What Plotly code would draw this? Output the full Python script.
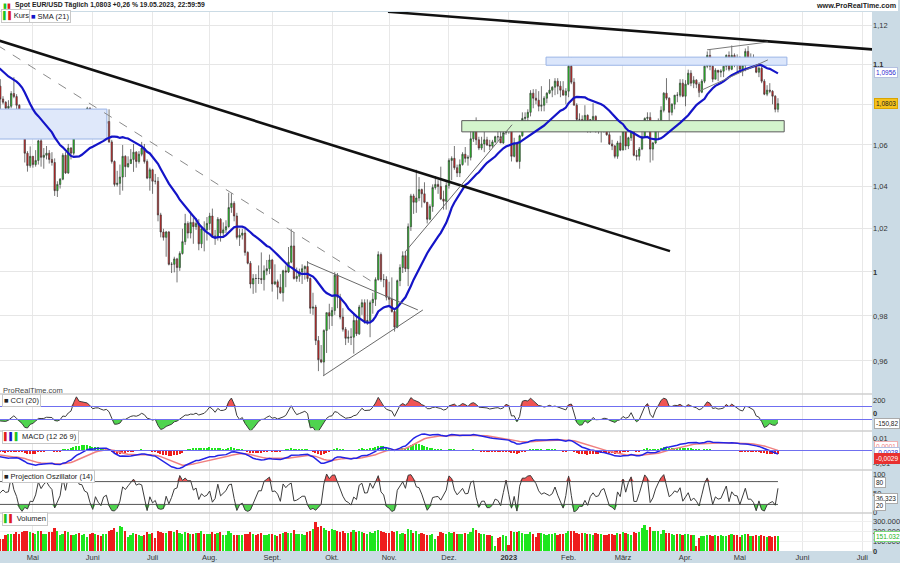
import numpy as np
import pandas as pd
import plotly.graph_objects as go
from plotly.subplots import make_subplots

# ---------------- data (EUR/USD daily) ----------------
dates = pd.bdate_range("2022-03-01", "2023-05-19")

opens = [
    # Mar 2022
    1.1220, 1.1125, 1.1120, 1.1065, 1.0930, 1.0855, 1.0905, 1.1075, 1.0985, 1.0912, 1.0941, 1.0955, 1.1035, 1.1094, 1.1050, 1.1016, 1.1030, 1.1005, 1.0995, 1.0985, 1.0985, 1.1090, 1.1160,
    # Apr 2022
    1.1067, 1.1046, 1.0971, 1.0905, 1.0900, 1.0880, 1.0876, 1.0887, 1.0830, 1.0890, 1.0826, 1.0810, 1.0780, 1.0790, 1.0853, 1.0838, 1.0795, 1.0715, 1.0640, 1.0560, 1.0500,
    # May 2022
    1.0545, 1.0505, 1.0525, 1.0620, 1.0540, 1.0550, 1.0560, 1.0530, 1.0515, 1.0380, 1.0410, 1.0435, 1.0550, 1.0465, 1.0585, 1.0560, 1.0690, 1.0735, 1.0675, 1.0725, 1.0730, 1.0780,
    # Jun 2022
    1.0735, 1.0650, 1.0750, 1.0720, 1.0695, 1.0705, 1.0715, 1.0615, 1.0520, 1.0410, 1.0415, 1.0445, 1.0545, 1.0495, 1.0510, 1.0530, 1.0565, 1.0520, 1.0555, 1.0585, 1.0520, 1.0440,
    # Jul 2022
    1.0480, 1.0425, 1.0425, 1.0265, 1.0185, 1.0160, 1.0185, 1.0035, 1.0035, 1.0060, 1.0020, 1.0085, 1.0140, 1.0225, 1.0180, 1.0230, 1.0210, 1.0225, 1.0130, 1.0200, 1.0195,
    # Aug 2022
    1.0225, 1.0260, 1.0165, 1.0165, 1.0245, 1.0180, 1.0195, 1.0210, 1.0300, 1.0320, 1.0260, 1.0160, 1.0170, 1.0180, 1.0090, 1.0040, 0.9945, 0.9970, 0.9970, 0.9970, 0.9965, 1.0005, 1.0015,
    # Sep 2022
    1.0055, 0.9945, 0.9955, 0.9930, 0.9905, 1.0005, 1.0000, 1.0045, 1.0120, 0.9970, 0.9980, 1.0000, 1.0015, 1.0025, 0.9970, 0.9835, 0.9840, 0.9690, 0.9605, 0.9595, 0.9735, 0.9815,
    # Oct 2022
    0.9800, 0.9825, 0.9985, 0.9885, 0.9795, 0.9740, 0.9700, 0.9705, 0.9705, 0.9780, 0.9720, 0.9840, 0.9860, 0.9775, 0.9780, 0.9860, 0.9875, 0.9965, 1.0080, 0.9965, 0.9965,
    # Nov 2022
    0.9885, 0.9875, 0.9820, 0.9750, 0.9960, 1.0020, 1.0075, 1.0015, 1.0210, 1.0355, 1.0325, 1.0345, 1.0385, 1.0365, 1.0325, 1.0245, 1.0305, 1.0395, 1.0410, 1.0400, 1.0340, 1.0330,
    # Dec 2022
    1.0405, 1.0525, 1.0535, 1.0490, 1.0465, 1.0505, 1.0555, 1.0535, 1.0540, 1.0630, 1.0680, 1.0625, 1.0585, 1.0605, 1.0625, 1.0600, 1.0595, 1.0615, 1.0640, 1.0640, 1.0610, 1.0660,
    # Jan 2023
    1.0705, 1.0670, 1.0545, 1.0605, 1.0520, 1.0645, 1.0730, 1.0735, 1.0760, 1.0855, 1.0830, 1.0820, 1.0790, 1.0795, 1.0830, 1.0855, 1.0870, 1.0885, 1.0915, 1.0890, 1.0870, 1.0845,
    # Feb 2023
    1.0865, 1.0990, 1.0910, 1.0795, 1.0725, 1.0725, 1.0710, 1.0745, 1.0680, 1.0725, 1.0740, 1.0690, 1.0675, 1.0695, 1.0685, 1.0650, 1.0605, 1.0595, 1.0545, 1.0610,
    # Mar 2023
    1.0575, 1.0665, 1.0595, 1.0635, 1.0680, 1.0550, 1.0545, 1.0580, 1.0640, 1.0730, 1.0735, 1.0580, 1.0610, 1.0670, 1.0715, 1.0770, 1.0855, 1.0830, 1.0760, 1.0800, 1.0845, 1.0845, 1.0905,
    # Apr 2023
    1.0840, 1.0900, 1.0955, 1.0905, 1.0920, 1.0900, 1.0860, 1.0915, 1.0990, 1.1045, 1.0990, 1.0925, 1.0970, 1.0960, 1.0965, 1.0990, 1.1045, 1.0975, 1.1045, 1.1030,
    # May 2023
    1.1015, 1.0975, 1.0995, 1.1065, 1.1015, 1.1020, 1.1005, 1.0960, 1.0980, 1.0915, 1.0850, 1.0870, 1.0865, 1.0840, 1.0775,
]

highs = [
    1.1234, 1.1155, 1.1125, 1.1070, 1.0945, 1.0935, 1.1080, 1.1120, 1.1040, 1.0985, 1.1015, 1.1040, 1.1135, 1.1105, 1.1075, 1.1045, 1.1045, 1.1035, 1.1030, 1.0995, 1.1137, 1.1185, 1.1170,
    1.1075, 1.1050, 1.0990, 1.0940, 1.0935, 1.0890, 1.0935, 1.0905, 1.0895, 1.0925, 1.0840, 1.0815, 1.0820, 1.0865, 1.0935, 1.0850, 1.0800, 1.0745, 1.0655, 1.0570, 1.0593,
    1.0545, 1.0575, 1.0625, 1.0640, 1.0585, 1.0595, 1.0575, 1.0565, 1.0535, 1.0425, 1.0440, 1.0560, 1.0565, 1.0605, 1.0590, 1.0695, 1.0750, 1.0735, 1.0740, 1.0765, 1.0787, 1.0785,
    1.0765, 1.0755, 1.0765, 1.0750, 1.0710, 1.0750, 1.0775, 1.0625, 1.0525, 1.0475, 1.0505, 1.0600, 1.0550, 1.0545, 1.0580, 1.0605, 1.0570, 1.0570, 1.0615, 1.0605, 1.0530, 1.0490,
    1.0485, 1.0460, 1.0445, 1.0275, 1.0200, 1.0190, 1.0190, 1.0045, 1.0070, 1.0065, 1.0095, 1.0200, 1.0270, 1.0235, 1.0280, 1.0255, 1.0250, 1.0245, 1.0210, 1.0235, 1.0255,
    1.0275, 1.0295, 1.0195, 1.0255, 1.0250, 1.0230, 1.0240, 1.0370, 1.0368, 1.0330, 1.0275, 1.0200, 1.0200, 1.0200, 1.0095, 1.0050, 0.9990, 0.9990, 1.0030, 1.0090, 1.0030, 1.0055, 1.0080,
    1.0060, 1.0035, 0.9965, 0.9990, 1.0010, 1.0030, 1.0115, 1.0198, 1.0185, 1.0020, 1.0015, 1.0035, 1.0030, 1.0050, 0.9975, 0.9905, 0.9850, 0.9710, 0.9670, 0.9740, 0.9815, 0.9855,
    0.9840, 0.9999, 0.9995, 0.9900, 0.9835, 0.9750, 0.9735, 0.9745, 0.9810, 0.9805, 0.9850, 0.9875, 0.9875, 0.9875, 0.9870, 0.9905, 0.9975, 1.0095, 1.0090, 0.9990, 0.9980,
    0.9955, 0.9975, 0.9835, 0.9965, 1.0035, 1.0095, 1.0095, 1.0225, 1.0365, 1.0365, 1.0480, 1.0445, 1.0390, 1.0420, 1.0325, 1.0315, 1.0410, 1.0450, 1.0430, 1.0495, 1.0380, 1.0420,
    1.0535, 1.0545, 1.0595, 1.0505, 1.0530, 1.0565, 1.0590, 1.0550, 1.0675, 1.0695, 1.0735, 1.0640, 1.0640, 1.0665, 1.0640, 1.0625, 1.0625, 1.0645, 1.0665, 1.0670, 1.0670, 1.0715,
    1.0710, 1.0685, 1.0635, 1.0615, 1.0650, 1.0760, 1.0760, 1.0775, 1.0870, 1.0875, 1.0875, 1.0865, 1.0890, 1.0840, 1.0860, 1.0925, 1.0890, 1.0930, 1.0930, 1.0915, 1.0915, 1.0880,
    1.1000, 1.1033, 1.0930, 1.0805, 1.0755, 1.0745, 1.0795, 1.0750, 1.0725, 1.0805, 1.0745, 1.0720, 1.0705, 1.0705, 1.0705, 1.0665, 1.0625, 1.0600, 1.0620, 1.0645,
    1.0690, 1.0670, 1.0640, 1.0695, 1.0695, 1.0575, 1.0590, 1.0700, 1.0735, 1.0760, 1.0760, 1.0615, 1.0675, 1.0730, 1.0790, 1.0860, 1.0930, 1.0835, 1.0805, 1.0845, 1.0860, 1.0925, 1.0925,
    1.0920, 1.0973, 1.0970, 1.0940, 1.0925, 1.0910, 1.0925, 1.0995, 1.1065, 1.1075, 1.0995, 1.0980, 1.0970, 1.0975, 1.0990, 1.1050, 1.1065, 1.1095, 1.1055, 1.1050,
    1.1040, 1.1025, 1.1080, 1.1092, 1.1055, 1.1050, 1.1020, 1.1000, 1.0990, 1.0925, 1.0895, 1.0905, 1.0870, 1.0845, 1.0830,
]

lows = [
    1.1090, 1.1070, 1.1040, 1.0890, 1.0805, 1.0855, 1.0900, 1.0975, 1.0905, 1.0905, 1.0940, 1.0950, 1.1020, 1.1005, 1.0995, 1.0960, 1.0965, 1.0985, 1.0965, 1.0945, 1.0985, 1.1085, 1.1065,
    1.1030, 1.0965, 1.0900, 1.0880, 1.0875, 1.0835, 1.0870, 1.0820, 1.0805, 1.0760, 1.0800, 1.0760, 1.0765, 1.0780, 1.0830, 1.0770, 1.0695, 1.0635, 1.0515, 1.0471, 1.0490,
    1.0490, 1.0495, 1.0505, 1.0495, 1.0485, 1.0530, 1.0510, 1.0500, 1.0355, 1.0350, 1.0390, 1.0430, 1.0460, 1.0460, 1.0530, 1.0550, 1.0660, 1.0645, 1.0660, 1.0705, 1.0720, 1.0680,
    1.0630, 1.0640, 1.0705, 1.0680, 1.0655, 1.0685, 1.0610, 1.0510, 1.0400, 1.0400, 1.0360, 1.0380, 1.0445, 1.0490, 1.0510, 1.0470, 1.0490, 1.0510, 1.0545, 1.0510, 1.0435, 1.0380,
    1.0365, 1.0410, 1.0235, 1.0160, 1.0145, 1.0070, 1.0030, 0.9995, 0.9998, 0.9952, 1.0005, 1.0080, 1.0125, 1.0155, 1.0155, 1.0130, 1.0195, 1.0100, 1.0110, 1.0095, 1.0145,
    1.0195, 1.0160, 1.0125, 1.0145, 1.0140, 1.0160, 1.0180, 1.0205, 1.0275, 1.0235, 1.0150, 1.0120, 1.0150, 1.0075, 1.0035, 0.9925, 0.9900, 0.9905, 0.9945, 0.9945, 0.9915, 0.9985, 0.9990,
    0.9910, 0.9940, 0.9875, 0.9900, 0.9865, 0.9930, 0.9995, 1.0040, 0.9965, 0.9955, 0.9955, 0.9945, 0.9965, 0.9955, 0.9810, 0.9805, 0.9670, 0.9555, 0.9590, 0.9536, 0.9635, 0.9740,
    0.9755, 0.9805, 0.9835, 0.9785, 0.9730, 0.9670, 0.9680, 0.9670, 0.9632, 0.9710, 0.9715, 0.9805, 0.9765, 0.9760, 0.9705, 0.9810, 0.9845, 0.9960, 0.9955, 0.9930, 0.9870,
    0.9850, 0.9815, 0.9730, 0.9745, 0.9935, 0.9995, 1.0000, 0.9935, 1.0190, 1.0270, 1.0275, 1.0330, 1.0300, 1.0320, 1.0225, 1.0240, 1.0280, 1.0385, 1.0365, 1.0335, 1.0290, 1.0290,
    1.0390, 1.0430, 1.0480, 1.0445, 1.0445, 1.0500, 1.0515, 1.0500, 1.0525, 1.0615, 1.0600, 1.0575, 1.0575, 1.0565, 1.0595, 1.0575, 1.0585, 1.0610, 1.0620, 1.0610, 1.0605, 1.0650,
    1.0655, 1.0520, 1.0540, 1.0515, 1.0485, 1.0640, 1.0715, 1.0715, 1.0740, 1.0780, 1.0800, 1.0765, 1.0765, 1.0765, 1.0805, 1.0850, 1.0835, 1.0845, 1.0850, 1.0835, 1.0845, 1.0800,
    1.0835, 1.0900, 1.0795, 1.0710, 1.0670, 1.0685, 1.0700, 1.0660, 1.0660, 1.0705, 1.0660, 1.0655, 1.0612, 1.0660, 1.0645, 1.0600, 1.0575, 1.0535, 1.0533, 1.0570,
    1.0575, 1.0575, 1.0580, 1.0620, 1.0545, 1.0525, 1.0525, 1.0575, 1.0635, 1.0690, 1.0515, 1.0525, 1.0605, 1.0625, 1.0710, 1.0760, 1.0820, 1.0715, 1.0745, 1.0775, 1.0810, 1.0835, 1.0835,
    1.0790, 1.0895, 1.0890, 1.0880, 1.0880, 1.0835, 1.0855, 1.0905, 1.0980, 1.0970, 1.0910, 1.0925, 1.0915, 1.0935, 1.0935, 1.0970, 1.0965, 1.0970, 1.0985, 1.0960,
    1.0965, 1.0940, 1.0965, 1.1010, 1.0995, 1.0995, 1.0955, 1.0935, 1.0905, 1.0845, 1.0840, 1.0855, 1.0800, 1.0760, 1.0760,
]

closes = [
    1.1125, 1.1120, 1.1065, 1.0930, 1.0855, 1.0905, 1.1075, 1.0985, 1.0912, 1.0941, 1.0955, 1.1035, 1.1094, 1.1050, 1.1016, 1.1030, 1.1005, 1.0995, 1.0985, 1.0985, 1.1090, 1.1160, 1.1067,
    1.1046, 1.0971, 1.0905, 1.0900, 1.0880, 1.0876, 1.0887, 1.0830, 1.0890, 1.0826, 1.0810, 1.0780, 1.0790, 1.0853, 1.0838, 1.0795, 1.0715, 1.0640, 1.0560, 1.0500, 1.0545,
    1.0505, 1.0525, 1.0620, 1.0540, 1.0550, 1.0560, 1.0530, 1.0515, 1.0380, 1.0410, 1.0435, 1.0550, 1.0465, 1.0585, 1.0560, 1.0690, 1.0735, 1.0675, 1.0725, 1.0730, 1.0780, 1.0735,
    1.0650, 1.0750, 1.0720, 1.0695, 1.0705, 1.0715, 1.0615, 1.0520, 1.0410, 1.0415, 1.0445, 1.0545, 1.0495, 1.0510, 1.0530, 1.0565, 1.0520, 1.0555, 1.0585, 1.0520, 1.0440, 1.0480,
    1.0425, 1.0425, 1.0265, 1.0185, 1.0160, 1.0185, 1.0035, 1.0035, 1.0060, 1.0020, 1.0085, 1.0140, 1.0225, 1.0180, 1.0230, 1.0210, 1.0225, 1.0130, 1.0200, 1.0195, 1.0225,
    1.0260, 1.0165, 1.0165, 1.0245, 1.0180, 1.0195, 1.0210, 1.0300, 1.0320, 1.0260, 1.0160, 1.0170, 1.0180, 1.0090, 1.0040, 0.9945, 0.9970, 0.9970, 0.9970, 0.9965, 1.0005, 1.0015, 1.0055,
    0.9945, 0.9955, 0.9930, 0.9905, 1.0005, 1.0000, 1.0045, 1.0120, 0.9970, 0.9980, 1.0000, 1.0015, 1.0025, 0.9970, 0.9835, 0.9840, 0.9690, 0.9605, 0.9595, 0.9735, 0.9815, 0.9800,
    0.9825, 0.9985, 0.9885, 0.9795, 0.9740, 0.9700, 0.9705, 0.9705, 0.9780, 0.9720, 0.9840, 0.9860, 0.9775, 0.9780, 0.9860, 0.9875, 0.9965, 1.0080, 0.9965, 0.9965, 0.9885,
    0.9875, 0.9820, 0.9750, 0.9960, 1.0020, 1.0075, 1.0015, 1.0210, 1.0355, 1.0325, 1.0345, 1.0385, 1.0365, 1.0325, 1.0245, 1.0305, 1.0395, 1.0410, 1.0400, 1.0340, 1.0330, 1.0405,
    1.0525, 1.0535, 1.0490, 1.0465, 1.0505, 1.0555, 1.0535, 1.0540, 1.0630, 1.0680, 1.0625, 1.0585, 1.0605, 1.0625, 1.0600, 1.0595, 1.0615, 1.0640, 1.0640, 1.0610, 1.0660, 1.0705,
    1.0670, 1.0545, 1.0605, 1.0520, 1.0645, 1.0730, 1.0735, 1.0760, 1.0855, 1.0830, 1.0820, 1.0790, 1.0795, 1.0830, 1.0855, 1.0870, 1.0885, 1.0915, 1.0890, 1.0870, 1.0845, 1.0865,
    1.0990, 1.0910, 1.0795, 1.0725, 1.0725, 1.0710, 1.0745, 1.0680, 1.0725, 1.0740, 1.0690, 1.0675, 1.0695, 1.0685, 1.0650, 1.0605, 1.0595, 1.0545, 1.0610, 1.0575,
    1.0665, 1.0595, 1.0635, 1.0680, 1.0550, 1.0545, 1.0580, 1.0640, 1.0730, 1.0735, 1.0580, 1.0610, 1.0670, 1.0715, 1.0770, 1.0855, 1.0830, 1.0760, 1.0800, 1.0845, 1.0845, 1.0905, 1.0840,
    1.0900, 1.0955, 1.0905, 1.0920, 1.0900, 1.0860, 1.0915, 1.0990, 1.1045, 1.0990, 1.0925, 1.0970, 1.0960, 1.0965, 1.0990, 1.1045, 1.0975, 1.1045, 1.1030, 1.1015,
    1.0975, 1.0995, 1.1065, 1.1015, 1.1020, 1.1005, 1.0960, 1.0980, 1.0915, 1.0850, 1.0870, 1.0865, 1.0840, 1.0775, 1.0803,
]

volumes_k = [
    190, 185, 200, 210, 220, 195, 215, 200, 185, 170, 175, 190, 185, 170, 160, 170, 165, 160, 155, 150, 175, 185, 180,
    165, 160, 170, 165, 160, 155, 150, 165, 170, 125, 120, 165, 170, 170, 175, 190, 175, 190, 200, 205, 190,
    185, 170, 200, 205, 175, 170, 195, 190, 230, 205, 165, 175, 200, 190, 160, 165, 170, 180, 165, 170, 140, 175,
    185, 175, 165, 155, 170, 175, 200, 210, 230, 195, 250, 240, 200, 140, 165, 185, 175, 160, 155, 165, 190, 175,
    180, 130, 205, 195, 185, 180, 200, 205, 190, 210, 185, 175, 195, 180, 175, 170, 180, 185, 200, 175, 170,
    175, 190, 175, 180, 190, 165, 160, 200, 180, 165, 165, 160, 165, 175, 175, 190, 170, 165, 175, 185, 160, 165, 170,
    175, 165, 150, 175, 185, 190, 180, 185, 215, 175, 170, 175, 165, 195, 200, 220, 290, 240, 255, 230, 215, 200,
    220, 215, 205, 195, 200, 180, 185, 195, 215, 190, 200, 190, 185, 175, 195, 180, 200, 215, 205, 190, 185,
    185, 200, 195, 200, 175, 180, 170, 220, 215, 180, 205, 175, 180, 170, 165, 160, 175, 120, 150, 190, 180, 175,
    195, 185, 190, 175, 170, 175, 180, 170, 195, 230, 210, 185, 175, 170, 165, 160, 150, 55, 130, 145, 160, 150,
    60, 205, 195, 190, 205, 180, 175, 175, 190, 170, 145, 180, 185, 170, 165, 175, 170, 180, 165, 175, 170, 185,
    200, 205, 200, 185, 175, 180, 180, 175, 170, 165, 185, 175, 170, 165, 160, 175, 170, 165, 180, 175,
    190, 185, 175, 165, 195, 185, 190, 230, 260, 215, 240, 205, 200, 205, 170, 210, 185, 180, 175, 165, 170, 175, 165,
    175, 170, 165, 160, 55, 135, 150, 155, 165, 160, 150, 160, 155, 160, 155, 150, 165, 170, 160, 165,
    140, 165, 175, 170, 155, 150, 160, 150, 165, 150, 145, 150, 145, 150, 151.032,
]

month_ticks = ["2022-05-02", "2022-06-01", "2022-07-01", "2022-08-01", "2022-09-01", "2022-10-03",
               "2022-11-01", "2022-12-01", "2023-01-02", "2023-02-01", "2023-03-01", "2023-04-03",
               "2023-05-01", "2023-06-01", "2023-07-03"]
month_labels = ["Mai", "Juni", "Juli", "Aug.", "Sept.", "Okt.", "Nov.", "Dez.", "<b>2023</b>",
                "Feb.", "März", "Apr.", "Mai", "Juni", "Juli"]

price_ticks = [0.96, 0.98, 1.0, 1.02, 1.04, 1.06, 1.08, 1.1, 1.12]
price_tick_labels = ["0,96", "0,98", "<b>1</b>", "1,02", "1,04", "1,06", "", "<b>1,1</b>", "1,12"]

# drawn objects (dates, prices)
thick_line_1 = (["2022-04-13", "2023-03-24 07:00"], [1.1123, 1.0096])
thick_line_2 = (["2022-10-31 14:00", "2023-07-07"], [1.1268, 1.1075])
dashed_line = (["2022-04-13", "2022-10-24"], [1.1096, 0.9953])
tri_upper = (["2022-09-19 19:00", "2022-11-15 14:00"], [1.0045, 0.9827])
tri_lower = (["2022-09-27 17:00", "2022-11-17 10:00"], [0.9534, 0.9827])
rise_line = (["2022-11-08 19:00", "2023-01-03 05:00"], [1.0091, 1.0699])
wedge_upper = (["2023-04-12 22:00", "2023-05-15 07:00"], [1.1073, 1.1113])
wedge_lower = (["2023-04-07 14:00", "2023-05-15 07:00"], [1.0862, 1.1022])
zone_left = (["2022-04-01", "2022-06-08 05:00"], [1.0629, 1.0776])
zone_top = (["2023-01-19 17:00", "2023-05-24 07:00"], [1.0995, 1.1036])
zone_green = (["2022-12-07 17:00", "2023-05-23 07:00"], [1.0664, 1.0719])

for name, arr in [("opens", opens), ("highs", highs), ("lows", lows), ("closes", closes), ("volumes", volumes_k)]:
    if len(arr) != len(dates):
        raise ValueError(f"{name}: {len(arr)} vs {len(dates)}")

# ---------------- indicators ----------------
o = np.array(opens); h = np.array(highs); l = np.array(lows); c = np.array(closes)
cs = pd.Series(c, index=dates)
sma21 = cs.rolling(21).mean()
tp = pd.Series((h + l + c) / 3, index=dates)
tp_ma = tp.rolling(20).mean()
tp_md = tp.rolling(20).apply(lambda w: np.mean(np.abs(w - w.mean())), raw=True)
cci = (tp - tp_ma) / (0.015 * tp_md)
ema12 = cs.ewm(span=12, adjust=False).mean()
ema26 = cs.ewm(span=26, adjust=False).mean()
macd = ema12 - ema26
signal = macd.ewm(span=9, adjust=False).mean()
hist = macd - signal


def projection_osc(hh_all, ll_all, cc_all, n=14):
    out = np.full(len(cc_all), np.nan)
    xs = np.arange(n)
    k = (n - 1) - xs
    for t in range(n - 1, len(cc_all)):
        hh = hh_all[t - n + 1:t + 1]
        ll = ll_all[t - n + 1:t + 1]
        sh = np.polyfit(xs, hh, 1)[0]
        sl = np.polyfit(xs, ll, 1)[0]
        ub = np.max(hh + sh * k)
        lb = np.min(ll + sl * k)
        out[t] = 100 * (cc_all[t] - lb) / (ub - lb) if ub > lb else 50
    return pd.Series(out, index=dates)


po = projection_osc(h, l, c, 14)

vis = dates >= pd.Timestamp("2022-04-06")
dv = dates[vis]

# ---------------- layout helpers ----------------
W, H = 900, 563
PT, PB, PR = 12, 551, 872
STRIP = "#cbdbe5"


def py(p):
    return (PB - p) / (PB - PT)


def pxx(p):
    return p / PR


FONT = "Liberation Sans, Arial, sans-serif"
GREEN = "#1ee61e"
RED = "#ee1c1c"

fig = make_subplots(rows=5, cols=1, shared_xaxes=True, vertical_spacing=0)

# zones (under candles)
for (zx, zy), fillc, linec in [(zone_left, "#dfe8fa", "#9ab4e6"),
                               (zone_green, "#d4f4cd", "#5a5a5a"),
                               (zone_top, "#dbe6fb", "#9ab4e6")]:
    fig.add_trace(go.Scatter(x=[zx[0], zx[1], zx[1], zx[0], zx[0]],
                             y=[zy[0], zy[0], zy[1], zy[1], zy[0]],
                             mode="lines", fill="toself", fillcolor=fillc,
                             line=dict(color=linec, width=1), hoverinfo="skip"), row=1, col=1)

fig.add_trace(go.Candlestick(x=dv, open=o[vis], high=h[vis], low=l[vis], close=c[vis],
                             increasing=dict(fillcolor=GREEN, line=dict(color="#3a3a3a", width=0.7)),
                             decreasing=dict(fillcolor=RED, line=dict(color="#3a3a3a", width=0.7)),
                             whiskerwidth=0, hoverinfo="skip"), row=1, col=1)
fig.add_trace(go.Scatter(x=dv, y=sma21[vis], mode="lines", line=dict(color="#1414c8", width=2.2),
                         hoverinfo="skip"), row=1, col=1)

for (lx, ly), col, wd, dash in [(thick_line_1, "#111111", 2.6, "solid"),
                                (thick_line_2, "#111111", 2.6, "solid"),
                                (dashed_line, "#8a8a8a", 1.0, "dash"),
                                (tri_upper, "#6a6a6a", 1.0, "solid"),
                                (tri_lower, "#6a6a6a", 1.0, "solid"),
                                (rise_line, "#6a6a6a", 1.0, "solid"),
                                (wedge_upper, "#7a7a7a", 1.0, "solid"),
                                (wedge_lower, "#7a7a7a", 1.0, "solid")]:
    fig.add_trace(go.Scatter(x=lx, y=ly, mode="lines", line=dict(color=col, width=wd, dash=dash),
                             hoverinfo="skip"), row=1, col=1)

# CCI
cv = cci[vis]
fig.add_trace(go.Scatter(x=dv, y=[100] * len(dv), mode="lines", line=dict(width=0), hoverinfo="skip"), row=2, col=1)
fig.add_trace(go.Scatter(x=dv, y=np.maximum(cv, 100), mode="lines", line=dict(width=0), fill="tonexty",
                         fillcolor="#f05454", hoverinfo="skip"), row=2, col=1)
fig.add_trace(go.Scatter(x=dv, y=[-100] * len(dv), mode="lines", line=dict(width=0), hoverinfo="skip"), row=2, col=1)
fig.add_trace(go.Scatter(x=dv, y=np.minimum(cv, -100), mode="lines", line=dict(width=0), fill="tonexty",
                         fillcolor="#4fd44f", hoverinfo="skip"), row=2, col=1)
fig.add_trace(go.Scatter(x=dv, y=cv, mode="lines", line=dict(color="#3c3c3c", width=1), hoverinfo="skip"), row=2, col=1)

# MACD
hv = hist[vis]
fig.add_trace(go.Bar(x=dv, y=hv, marker=dict(color=[GREEN if v >= 0 else RED for v in hv], line=dict(width=0)),
                     width=0.55 * 86400000, hoverinfo="skip"), row=3, col=1)
fig.add_trace(go.Scatter(x=dv, y=signal[vis], mode="lines", line=dict(color="#f08080", width=1.5), hoverinfo="skip"), row=3, col=1)
fig.add_trace(go.Scatter(x=dv, y=macd[vis], mode="lines", line=dict(color="#2323e6", width=1.5), hoverinfo="skip"), row=3, col=1)

# Projection oscillator
pv = po[vis]
fig.add_trace(go.Scatter(x=dv, y=[80] * len(dv), mode="lines", line=dict(color="#555555", width=1), hoverinfo="skip"), row=4, col=1)
fig.add_trace(go.Scatter(x=dv, y=np.maximum(pv, 80), mode="lines", line=dict(width=0), fill="tonexty",
                         fillcolor="#f05454", hoverinfo="skip"), row=4, col=1)
fig.add_trace(go.Scatter(x=dv, y=[20] * len(dv), mode="lines", line=dict(color="#555555", width=1), hoverinfo="skip"), row=4, col=1)
fig.add_trace(go.Scatter(x=dv, y=np.minimum(pv, 20), mode="lines", line=dict(width=0), fill="tonexty",
                         fillcolor="#4fd44f", hoverinfo="skip"), row=4, col=1)
fig.add_trace(go.Scatter(x=dv, y=pv, mode="lines", line=dict(color="#3c3c3c", width=1), hoverinfo="skip"), row=4, col=1)

# Volume
vol = np.array(volumes_k) * 1000
fig.add_trace(go.Bar(x=dv, y=vol[vis], marker=dict(color=[GREEN if cc > oo else RED for oo, cc in zip(o[vis], c[vis])],
                                                    line=dict(width=0)),
                     width=0.62 * 86400000, hoverinfo="skip"), row=5, col=1)

xrange_ = ["2022-04-13 21:30", "2023-07-06 14:00"]
fig.update_xaxes(range=xrange_, rangebreaks=[dict(bounds=["sat", "mon"])], rangeslider_visible=False,
                 tickmode="array", tickvals=month_ticks, ticktext=month_labels, showgrid=True,
                 gridcolor="#e8e8e8", gridwidth=1, zeroline=False, showline=False, ticks="",
                 showticklabels=False)
fig.update_xaxes(showticklabels=True, tickfont=dict(size=7.5, color="#333", family=FONT), row=5, col=1)

# main panel extends down to the first indicator panel (blank gap below the candles)
main_lo = np.log10(0.949) - 8 * (np.log10(1.1267) - np.log10(0.949)) / (386 - PT)

ax_common = dict(side="right", ticks="", showline=False, zeroline=False,
                 tickfont=dict(size=7.5, color="#333", family=FONT))
fig.update_layout(
    yaxis=dict(domain=[py(394), 1], type="log", range=[main_lo, np.log10(1.1267)],
               tickmode="array", tickvals=price_ticks, ticktext=price_tick_labels,
               showgrid=True, gridcolor="#e6e6e6", **ax_common),
    yaxis2=dict(domain=[py(431), py(394)], range=[-277, 292], tickmode="array", tickvals=[200, 0],
                ticktext=["200", "<b>0</b>"], showgrid=False, **ax_common),
    yaxis3=dict(domain=[py(470), py(431)], range=[-0.0156, 0.0156], tickmode="array",
                tickvals=[0.01, -0.01], ticktext=["0,01", "-0,01"], showgrid=False, **ax_common),
    yaxis4=dict(domain=[py(513), py(470)], range=[-2.6, 110.5], tickmode="array",
                tickvals=[100, 50, 0], ticktext=["100", "50", "0"], showgrid=False, **ax_common),
    yaxis5=dict(domain=[0, py(513)], range=[0, 380000], tickmode="array",
                tickvals=[300000, 200000, 100000, 0], ticktext=["300.000", "200.000", "100.000", "<b>0</b>"],
                showgrid=True, gridcolor="#efefef", **ax_common),
)

shapes = []
for yy in [394, 431, 470, 513]:
    shapes.append(dict(type="line", xref="paper", yref="paper", x0=0, x1=1, y0=py(yy), y1=py(yy),
                       line=dict(color="#cfcfcf", width=1.5)))
shapes.append(dict(type="line", xref="x2 domain", yref="y2", x0=0, x1=1, y0=100, y1=100, line=dict(color="#6f6ff0", width=1.2)))
shapes.append(dict(type="line", xref="x2 domain", yref="y2", x0=0, x1=1, y0=-100, y1=-100, line=dict(color="#6f6ff0", width=1.2)))
shapes.append(dict(type="line", xref="x3 domain", yref="y3", x0=0, x1=1, y0=0, y1=0, line=dict(color="#6f6ff0", width=1.2)))

annotations = []
# white header band above the chart
annotations.append(dict(text=" ", x=0, y=py(0), xref="paper", yref="paper", xanchor="left", yanchor="top",
                        width=W - 2, height=PT - 1, bgcolor="white", bordercolor="#d0d0d0", borderwidth=0,
                        borderpad=0, showarrow=False, font=dict(size=6)))


def ann(text, x, y, size=8, color="#222", xanchor="left", bg=None, border=None, bold=False):
    d = dict(text=("<b>%s</b>" % text) if bold else text, x=x, y=y, xref="paper", yref="paper",
             showarrow=False, xanchor=xanchor, yanchor="middle",
             font=dict(size=size, color=color, family=FONT))
    if bg:
        d["bgcolor"] = bg
    if border:
        d.update(bordercolor=border, borderwidth=1, borderpad=1)
    annotations.append(d)


ann("<span style='color:#1ec41e'>▮</span><span style='color:#e01c1c'>▮</span>", pxx(1), py(5), size=7)
ann("Spot EUR/USD Täglich 1,0803 +0,26 % 19.05.2023, 22:59:59", pxx(13), py(5), size=6.8, bold=True)
ann("www.ProRealTime.com", pxx(898), py(5), size=7.2, xanchor="right", bold=True)
ann("<span style='color:#1ec41e'>▌</span><span style='color:#e01c1c'>▌</span>Kurs", pxx(1), py(16.5), size=7.5,
    bg="white", border="#c8c8c8")
ann("<span style='color:#1414c8'>■</span> SMA (21)", pxx(29), py(16.5), size=7.5, bg="white", border="#c8c8c8")
ann("ProRealTime.com", pxx(1), py(390.5), size=7.5, color="#444")
ann("■ CCI (20)", pxx(2), py(400), size=7.5, bg="white", border="#c8c8c8")
ann("<span style='color:#e01c1c'>▌</span><span style='color:#1414c8'>▌</span><span style='color:#1ec41e'>▌</span> MACD (12 26 9)",
    pxx(2), py(437), size=7.5, bg="white", border="#c8c8c8")
ann("■ Projection Oszillator (14)", pxx(2), py(476), size=7.5, bg="white", border="#c8c8c8")
ann("<span style='color:#1ec41e'>▌</span><span style='color:#e01c1c'>▌</span> Volumen", pxx(2), py(519), size=7.5,
    bg="white", border="#c8c8c8")

# right-hand value boxes
RX = pxx(874)
ann("1,0956", RX, py(73), size=6.5, color="#2b2bd0", bg="white", border="#b4c0e0")
ann("1,0803", RX, py(104), size=6.5, color="#222", bg="#f6c21c", border="#d9a400")
ann("-150,82", RX, py(423), size=6.5, color="#222", bg="white", border="#aaaaaa")
ann("0,0001", RX, py(446.5), size=6.5, color="#f08080", bg="white", border="#f0b0b0")
ann("-0,0028", RX, py(452.5), size=6.5, color="#2b2bd0", bg="white", border="#b4c0e0")
ann("-0,0029", RX, py(458), size=6.5, color="white", bg="#e83030", border="#e83030")
ann("80", RX, py(482), size=6.5, color="#222", bg="white", border="#aaaaaa")
ann("36,323", RX, py(498), size=6.5, color="#222", bg="white", border="#aaaaaa")
ann("20", RX, py(505.5), size=6.5, color="#222", bg="white", border="#aaaaaa")
ann("151.032", RX, py(536), size=6.5, color="#22b422", bg="white", border="#7ad67a")

fig.update_layout(width=W, height=H, margin=dict(l=0, r=W - PR, t=PT, b=H - PB),
                  paper_bgcolor=STRIP, plot_bgcolor="white", showlegend=False,
                  separators=",.", font=dict(family=FONT, size=8, color="#333"),
                  shapes=shapes, annotations=annotations, hovermode=False, bargap=0)

fig.write_html("out.html", config={"displayModeBar": False},
               post_script="document.body.style.margin='0';document.body.style.padding='0';")
